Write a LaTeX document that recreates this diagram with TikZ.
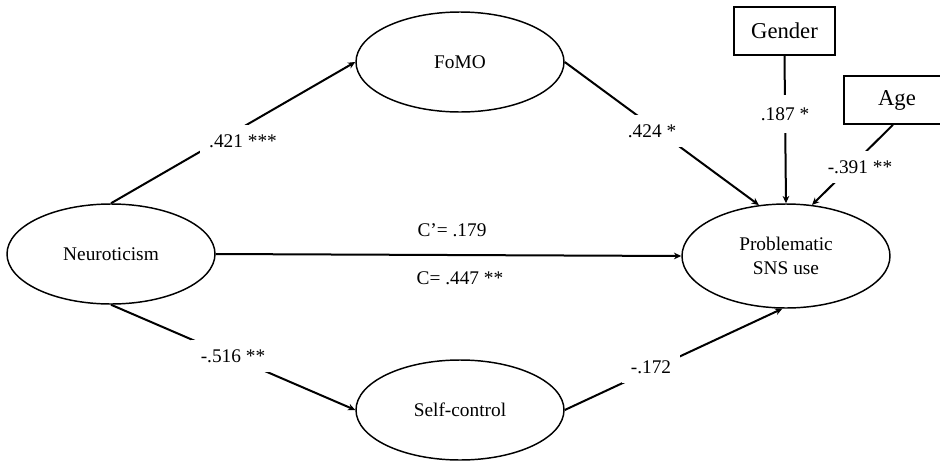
\documentclass[tikz,border=0pt]{standalone}
\usepackage{fontspec}
\setmainfont{Liberation Serif}
\usetikzlibrary{arrows.meta,positioning,shapes.geometric}

\begin{document}
\begin{tikzpicture}[x=0.75pt,y=-0.75pt]
    \tikzset{latent/.style={ellipse,draw,line width=1.1pt,minimum width=156pt,minimum height=75pt,
      inner sep=0pt,align=center,font=\fontsize{14.5}{18}\selectfont},
      observed/.style={rectangle,draw,line width=1.2pt,minimum height=36pt,font=\fontsize{17}{20}\selectfont},
      link/.style={line width=1.5pt,-{Stealth[length=5.5pt,width=5pt]}},
      coef/.style={fill=white,inner sep=7pt,font=\fontsize{14.5}{17}\selectfont}}
    \useasboundingbox (0,0) rectangle (940,461);
    % variables
    \node[latent] (neuro) at (111,254) {Neuroticism};
    \node[latent] (fomo) at (460,62) {FoMO};
    \node[latent] (self) at (460,410) {Self-control};
    \node[latent,minimum height=78pt] (sns) at (786,256) {Problematic\\SNS use};
    \node[observed,minimum width=75.75pt] (gender) at (784.5,31) {Gender};
    \node[observed,minimum width=79.5pt] (age) at (897,100) {Age};
    % paths
    \draw[link] (neuro.north) -- (fomo.west);
    \draw[link] (fomo.east) -- (sns.118);
    \draw[link] (gender.south) -- (sns.north);
    \draw[link] ([xshift=-3pt]age.south) -- (sns.63);
    \draw[link] (neuro.east) -- (sns.west);
    \draw[link] (neuro.south) -- (self.west);
    \draw[link] (self.east) -- (sns.266);
    % coefficients
    \node[coef] (a1) at (243,141) {.421 ***};
    \node[coef] (b1) at (652,131) {.424 *};
    \node[coef,inner ysep=9pt] (g1) at (785,114) {.187 *};
    \node[coef] (y1) at (860,167) {-.391 **};
    \node[coef,inner sep=2pt] (cd) at (452,230) {C’= .179};
    \node[coef,inner sep=2pt] (ct) at (460,278) {C= .447 **};
    \node[coef] (a2) at (233,356) {-.516 **};
    \node[coef] (b2) at (651,367) {-.172};
  \end{tikzpicture}
\end{document}
